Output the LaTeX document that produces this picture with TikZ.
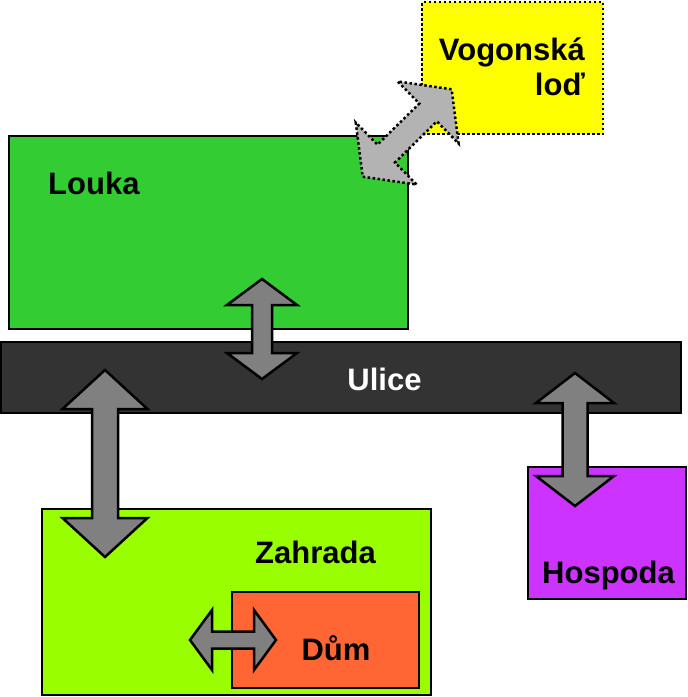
\documentclass[tikz,border=0pt]{standalone}
\usepackage{fontspec}
\setmainfont{Liberation Sans}
\definecolor{louka}{HTML}{33CC33}
\definecolor{ulice}{HTML}{333333}
\definecolor{vogon}{HTML}{FFFF00}
\definecolor{zahrada}{HTML}{99FF00}
\definecolor{dum}{HTML}{FF6633}
\definecolor{hospoda}{HTML}{CC33FF}
\definecolor{arrowgray}{HTML}{808080}
\definecolor{lightarrow}{HTML}{B3B3B3}
\tikzset{
  box/.style={draw=black, line width=2.5pt, inner sep=0pt, outer sep=0pt},
  dottedbox/.style={draw=black, line width=2.5pt, dash pattern=on 2.5pt off 2.5pt, inner sep=0pt, outer sep=0pt},
  lbl/.style={inner sep=0pt, font=\bfseries\fontsize{31}{35}\selectfont},
  blockarrow/.style={fill=arrowgray, draw=black, line width=2.5pt, line join=miter},
  dottedarrow/.style={fill=lightarrow, draw=black, line width=2.5pt, dash pattern=on 2.5pt off 2.5pt, line join=miter},
  pics/dbl/.style n args={4}{code={
    \path[pic actions] (0,0) -- (#3,#2/2) -- (#3,#4/2) -- (#1-#3,#4/2) -- (#1-#3,#2/2)
      -- (#1,0) -- (#1-#3,-#2/2) -- (#1-#3,-#4/2) -- (#3,-#4/2) -- (#3,-#2/2) -- cycle;
  }}
}
\begin{document}
\begin{tikzpicture}[x=1pt,y=-1pt]
\useasboundingbox (0,0) rectangle (688,697);
\fill[white] (0,0) rectangle (688,697);
% boxes
\node[box, fill=louka, minimum width=399pt, minimum height=193pt] (louka) at (208.5,232.5) {};
\node[box, fill=ulice, minimum width=680pt, minimum height=71pt] (ulice) at (341,377.5) {};
\node[dottedbox, fill=vogon, minimum width=181pt, minimum height=132pt] (vogon) at (512.5,68) {};
\node[box, fill=zahrada, minimum width=389pt, minimum height=186pt] (zahrada) at (236.5,602) {};
\node[box, fill=dum, minimum width=187pt, minimum height=96pt] (dum) at (325.5,640) {};
\node[box, fill=hospoda, minimum width=158pt, minimum height=132pt] (hospoda) at (607,533) {};
% labels
\node[lbl, anchor=base west] (loukaT) at (48,194) {Louka};
\node[lbl, anchor=base, text=white] (uliceT) at (384.5,390) {Ulice};
\node[lbl, anchor=base east] (vogonT1) at (585,60) {Vogonská};
\node[lbl, anchor=base east] (vogonT2) at (585,95) {loď};
\node[lbl, anchor=base west] (zahradaT) at (255,563) {Zahrada};
\node[lbl, anchor=base] (dumT) at (336,660) {Dům};
\node[lbl, anchor=base] (hospodaT) at (608.5,583) {Hospoda};
% arrows
\pic[dottedarrow, rotate=44.5] at (362.7,176.7) {dbl={124.7}{87}{33}{25}};
\pic[blockarrow, rotate=-90] at (262,279) {dbl={100}{70}{26}{20}};
\pic[blockarrow, rotate=-90] at (105,370) {dbl={187}{85}{39}{26}};
\pic[blockarrow, rotate=-90] at (575,373) {dbl={133}{78}{30}{25}};
\pic[blockarrow] at (190,640) {dbl={86}{60}{22}{17}};
\end{tikzpicture}
\end{document}
